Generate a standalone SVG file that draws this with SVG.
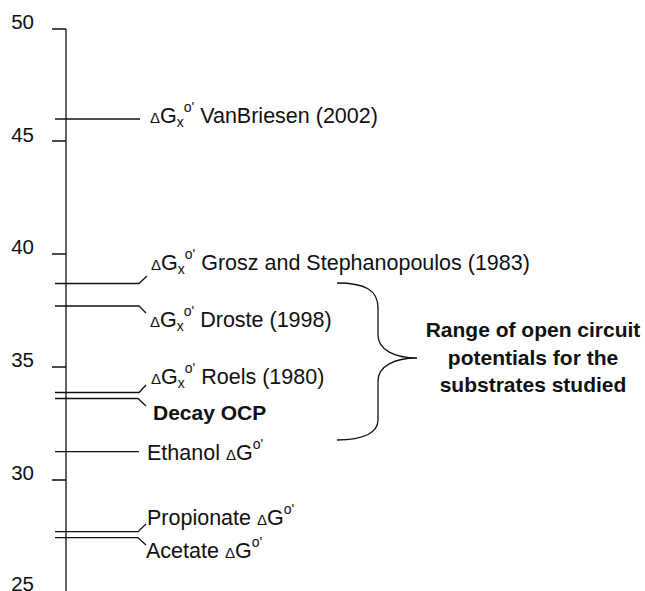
<svg xmlns="http://www.w3.org/2000/svg" width="645" height="591" viewBox="0 0 645 591">
<style>
text{font-family:"Liberation Sans",Arial,sans-serif;fill:#111}
.ax{font-size:20.5px;text-anchor:end}
.lb{font-size:21.5px}
.d{font-size:15px}
.s{font-size:14px}
.b{font-size:21px;font-weight:bold}
.rg{font-size:21px;font-weight:bold;text-anchor:middle}
.ln{fill:none;stroke:#111;stroke-width:1.3}
</style>
<rect width="645" height="591" fill="#fff"/>
<g id="axis">
<path class="ln" d="M66,29V591M52,29H66M52,141H66M52,254H66M52,367H66M52,480H66"/>
<text class="ax" x="34" y="29">50</text>
<text class="ax" x="34" y="142">45</text>
<text class="ax" x="34" y="254">40</text>
<text class="ax" x="34" y="367">35</text>
<text class="ax" x="34" y="480">30</text>
<text class="ax" x="34" y="591">25</text>
</g>
<g id="connectors">
<path class="ln" d="M55,119H140"/>
<path class="ln" d="M55,283.5H139L147,276"/>
<path class="ln" d="M55,306H139L146,313"/>
<path class="ln" d="M55,392.5H139L146,385"/>
<path class="ln" d="M55,398.5H138L146,406"/>
<path class="ln" d="M55,451.7H139"/>
<path class="ln" d="M55,531.7H138L146,524"/>
<path class="ln" d="M55,537.7H138L146,545"/>
</g>
<g id="vanbriesen"><text class="lb" x="150" y="123"><tspan class="d">Δ</tspan>G<tspan class="s" dy="4">x</tspan><tspan class="s" dy="-15">o'</tspan><tspan dy="11"> VanBriesen (2002)</tspan></text></g>
<g id="grosz"><text class="lb" x="151" y="270"><tspan class="d">Δ</tspan>G<tspan class="s" dy="4">x</tspan><tspan class="s" dy="-15">o'</tspan><tspan dy="11"> Grosz and Stephanopoulos (1983)</tspan></text></g>
<g id="droste"><text class="lb" x="150" y="327"><tspan class="d">Δ</tspan>G<tspan class="s" dy="4">x</tspan><tspan class="s" dy="-15">o'</tspan><tspan dy="11"> Droste (1998)</tspan></text></g>
<g id="roels"><text class="lb" x="151" y="384"><tspan class="d">Δ</tspan>G<tspan class="s" dy="4">x</tspan><tspan class="s" dy="-15">o'</tspan><tspan dy="11"> Roels (1980)</tspan></text></g>
<g id="decay"><text class="b" x="153" y="420">Decay OCP</text></g>
<g id="ethanol"><text class="lb" x="147" y="460">Ethanol <tspan class="d">Δ</tspan>G<tspan class="s" dy="-11">o'</tspan></text></g>
<g id="propionate"><text class="lb" x="147" y="525">Propionate <tspan class="d">Δ</tspan>G<tspan class="s" dy="-11">o'</tspan></text></g>
<g id="acetate"><text class="lb" x="146" y="558">Acetate <tspan class="d">Δ</tspan>G<tspan class="s" dy="-11">o'</tspan></text></g>
<g id="range">
<path class="ln" d="M337,283C365,283 378,290 378,308V335C378,350 395,358 417,358C395,358 378,366 378,381V420C378,432 365,440 337,440"/>
<text class="rg" x="533" y="337">Range of open circuit</text>
<text class="rg" x="533" y="365">potentials for the</text>
<text class="rg" x="533" y="392">substrates studied</text>
</g>
</svg>
